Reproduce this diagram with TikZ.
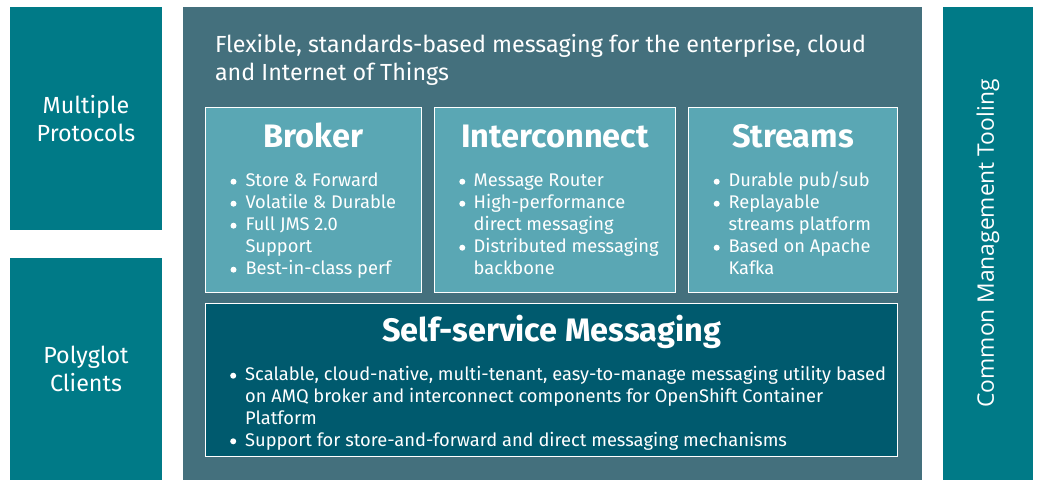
\documentclass[tikz,border=0pt]{standalone}
\usepackage{fontspec}
\setmainfont{Fira Sans}
\newfontfamily\sidefont{Open Sans}
\definecolor{tealbox}{HTML}{007A87}
\definecolor{midbox}{HTML}{44707D}
\definecolor{lightbox}{HTML}{5AA7B4}
\definecolor{darkbox}{HTML}{005A6E}
\tikzset{
  panel/.style={draw=none, inner sep=0pt, outer sep=0pt},
  inbox/.style={draw=white, line width=1pt, inner sep=0pt, outer sep=0pt},
  lbl/.style={text=white, inner sep=0pt, outer sep=0pt, font=\fontsize{23.3}{28.5}\selectfont, align=center},
  hdr/.style={text=white, inner sep=0pt, outer sep=0pt, anchor=base west, font=\fontsize{23.3}{28}\selectfont},
  ttl/.style={text=white, inner sep=0pt, anchor=base, font=\fontsize{32.5}{36}\bfseries\selectfont},
  itm/.style={text=white, inner sep=0pt, anchor=base west, font=\fontsize{18.3}{22}\selectfont},
  dot/.style={fill=white}
}
\begin{document}
\begin{tikzpicture}[x=1pt,y=-1pt]
\useasboundingbox (0,0) rectangle (1042,488);
\fill[white] (0,0) rectangle (1042,488);
% side panels
\node[panel, fill=tealbox, minimum width=152pt, minimum height=223pt, anchor=north west] (proto) at (10,7) {};
\node[lbl] (protot) at (proto.center) {Multiple\\Protocols};
\node[panel, fill=tealbox, minimum width=152pt, minimum height=222pt, anchor=north west] (poly) at (10,258) {};
\node[lbl] (polyt) at (poly.center) {Polyglot\\Clients};
\node[panel, fill=tealbox, minimum width=90pt, minimum height=473pt, anchor=north west] (tool) at (943,7) {};
\node[text=white, inner sep=0pt, rotate=90, font=\sidefont\fontsize{22.8}{26}\selectfont] (toolt) at (tool.center) {Common Management Tooling};
% middle panel
\node[panel, fill=midbox, minimum width=739pt, minimum height=473pt, anchor=north west] (mid) at (183,7) {};
\node[hdr] (head1) at (215,52) {Flexible, standards-based messaging for the enterprise, cloud};
\node[hdr] (head2) at (215,80.5) {and Internet of Things};
% inner boxes
\node[inbox, fill=lightbox, minimum width=216pt, minimum height=185pt, anchor=north west] (broker) at (205.5,107.3) {};
\node[inbox, fill=lightbox, minimum width=241.5pt, minimum height=185pt, anchor=north west] (inter) at (434.2,107.3) {};
\node[inbox, fill=lightbox, minimum width=209pt, minimum height=185pt, anchor=north west] (streams) at (688.3,107.3) {};
\node[inbox, fill=darkbox, minimum width=692pt, minimum height=153.4pt, anchor=north west] (self) at (205.5,303.3) {};
% titles
\node[ttl] (brokert) at (313.5,147.3) {Broker};
\node[ttl] (intert) at (555,147.3) {Interconnect};
\node[ttl] (streamst) at (793,147.3) {Streams};
\node[ttl] (selft) at (551.5,341.7) {Self-service Messaging};
% broker items
\foreach \t/\b [count=\i] in {{Store \& Forward}/1, {Volatile \& Durable}/1, {Full JMS 2.0}/1, {Support}/0, {Best-in-class perf}/1}{
  \node[itm] (br\i) at (245.3,{186.7+22*(\i-1)}) {\t};
  \ifnum\b=1 \fill[dot] (233.5,{181.7+22*(\i-1)}) circle (3pt); \fi
}
% interconnect items
\foreach \t/\b [count=\i] in {{Message Router}/1, {High-performance}/1, {direct messaging}/0, {Distributed messaging}/1, {backbone}/0}{
  \node[itm] (ic\i) at (473.5,{186.7+22*(\i-1)}) {\t};
  \ifnum\b=1 \fill[dot] (462.3,{181.7+22*(\i-1)}) circle (3pt); \fi
}
% streams items
\foreach \t/\b [count=\i] in {{Durable pub/sub}/1, {Replayable}/1, {streams platform}/0, {Based on Apache}/1, {Kafka}/0}{
  \node[itm] (st\i) at (728.3,{186.7+22*(\i-1)}) {\t};
  \ifnum\b=1 \fill[dot] (716.7,{181.7+22*(\i-1)}) circle (3pt); \fi
}
% self-service items
\node[itm] (ss1) at (245,380.7) {Scalable, cloud-native, multi-tenant, easy-to-manage messaging utility based};
\node[itm] (ss2) at (245,402.5) {on AMQ broker and interconnect components for OpenShift Container};
\node[itm] (ss3) at (245,424.3) {Platform};
\node[itm] (ss4) at (245,446.3) {Support for store-and-forward and direct messaging mechanisms};
\fill[dot] (233.2,375.7) circle (3pt);
\fill[dot] (233.2,441.3) circle (3pt);
\end{tikzpicture}
\end{document}
